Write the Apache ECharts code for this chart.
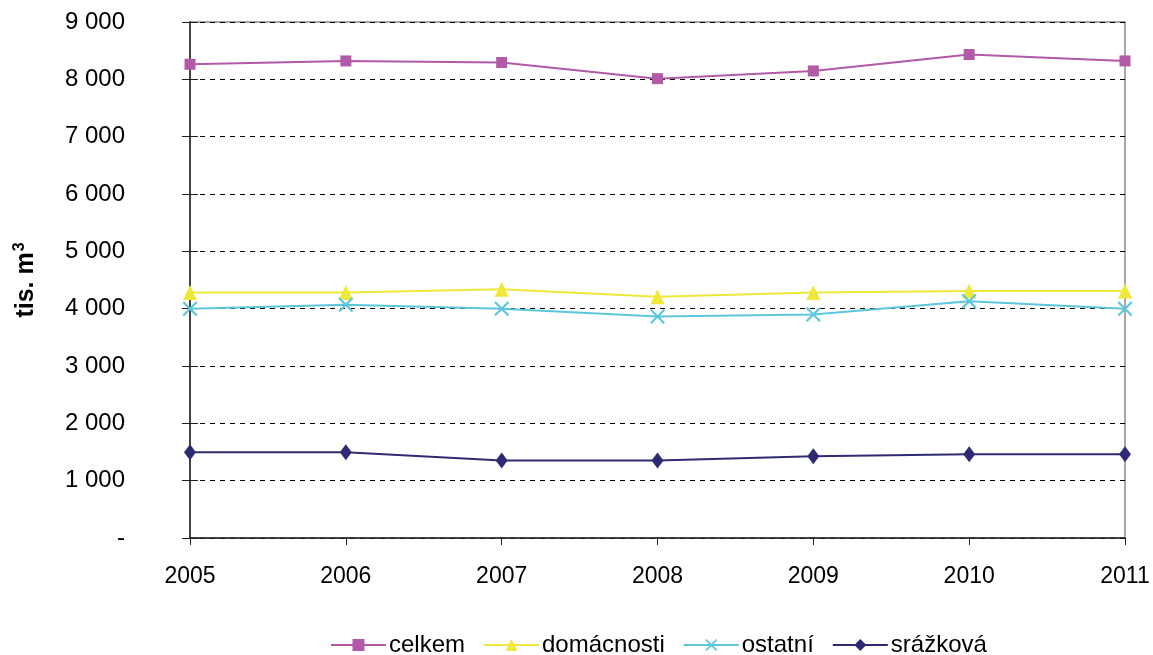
<!DOCTYPE html>
<html><head><meta charset="utf-8">
<script src="https://cdn.jsdelivr.net/npm/echarts@6/dist/echarts.min.js"></script>
<style>html,body{margin:0;padding:0;background:#fff}#c{width:1153px;height:655px}</style>
</head><body><div id="c"></div>
<script>
const years = ['2005','2006','2007','2008','2009','2010','2011'];
const celkem = [8263, 8321, 8293, 8012, 8146, 8433, 8321];
const domacnosti = [4280, 4280, 4340, 4210, 4280, 4310, 4310];
const ostatni = [4000, 4070, 4000, 3865, 3900, 4130, 4000];
const srazkova = [1494, 1494, 1350, 1350, 1424, 1459, 1459];
const seriesNames = ['celkem','domácnosti','ostatní','srážková'];
const yAxisName = 'tis. m{s|3}';

const font = 'Liberation Sans, Arial, sans-serif';
const crossPath = 'path://M0,1L1,0L5,4L9,0L10,1L6,5L10,9L9,10L5,6L1,10L0,9L4,5Z';
function fmt(v){ if(v===0) return '-'; return String(v).replace(/\B(?=(\d{3})+(?!\d))/g,' '); }

const chart = echarts.init(document.getElementById('c'));
chart.setOption({
  animation:false,
  backgroundColor:'#fff',
  textStyle:{fontFamily:font},
  grid:{left:190, right:28, top:22, bottom:117, show:true, borderColor:'#8a8a8a', borderWidth:1.5},
  legend:{
    top:628, left:325, itemWidth:55, itemHeight:15, itemGap:18,
    textStyle:{fontSize:24, color:'#000', fontFamily:font, padding:[0,0,0,-2]},
    data:seriesNames
  },
  xAxis:{
    type:'category', data:years, boundaryGap:false,
    axisLine:{lineStyle:{color:'#222', width:1.5}},
    axisTick:{show:true, inside:false, length:7, lineStyle:{color:'#222'}},
    axisLabel:{fontSize:23, color:'#000', margin:27}
  },
  yAxis:[{
    type:'value', min:0, max:9000, interval:1000,
    name:yAxisName, nameLocation:'middle', nameGap:150, nameRotate:90,
    nameTextStyle:{fontSize:25, fontWeight:'bold', color:'#000', fontFamily:font,
      rich:{s:{fontSize:16, fontWeight:'bold', color:'#000', fontFamily:font, verticalAlign:'top', padding:[0,0,12,1]}}},
    axisLine:{show:true, lineStyle:{color:'#222', width:1.5}},
    axisTick:{show:true, length:8, lineStyle:{color:'#222'}},
    axisLabel:{fontSize:24, color:'#000', margin:65, formatter:fmt},
    splitLine:{show:true, lineStyle:{color:'#000', type:[5,5], width:1}}
  },{
    type:'value', min:0, max:9000, interval:1000, position:'left',
    axisLine:{show:false}, axisLabel:{show:false}, splitLine:{show:false},
    axisTick:{show:true, inside:true, length:8, lineStyle:{color:'#222'}}
  }],
  series:[
    {name:seriesNames[0], type:'line', data:celkem, symbol:'rect', symbolSize:11,
     lineStyle:{color:'#B259A8', width:2}, itemStyle:{color:'#B259A8'}},
    {name:seriesNames[1], type:'line', data:domacnosti, symbol:'triangle', symbolSize:[14,15],
     lineStyle:{color:'#EDE83A', width:2}, itemStyle:{color:'#EDE83A'}},
    {name:seriesNames[2], type:'line', data:ostatni, symbol:crossPath, symbolSize:15,
     lineStyle:{color:'#5CC6DC', width:2}, itemStyle:{color:'#5CC6DC'}},
    {name:seriesNames[3], type:'line', data:srazkova, symbol:'diamond', symbolSize:[12,16],
     lineStyle:{color:'#2F2B73', width:2}, itemStyle:{color:'#2F2B73'}}
  ]
});
</script></body></html>
